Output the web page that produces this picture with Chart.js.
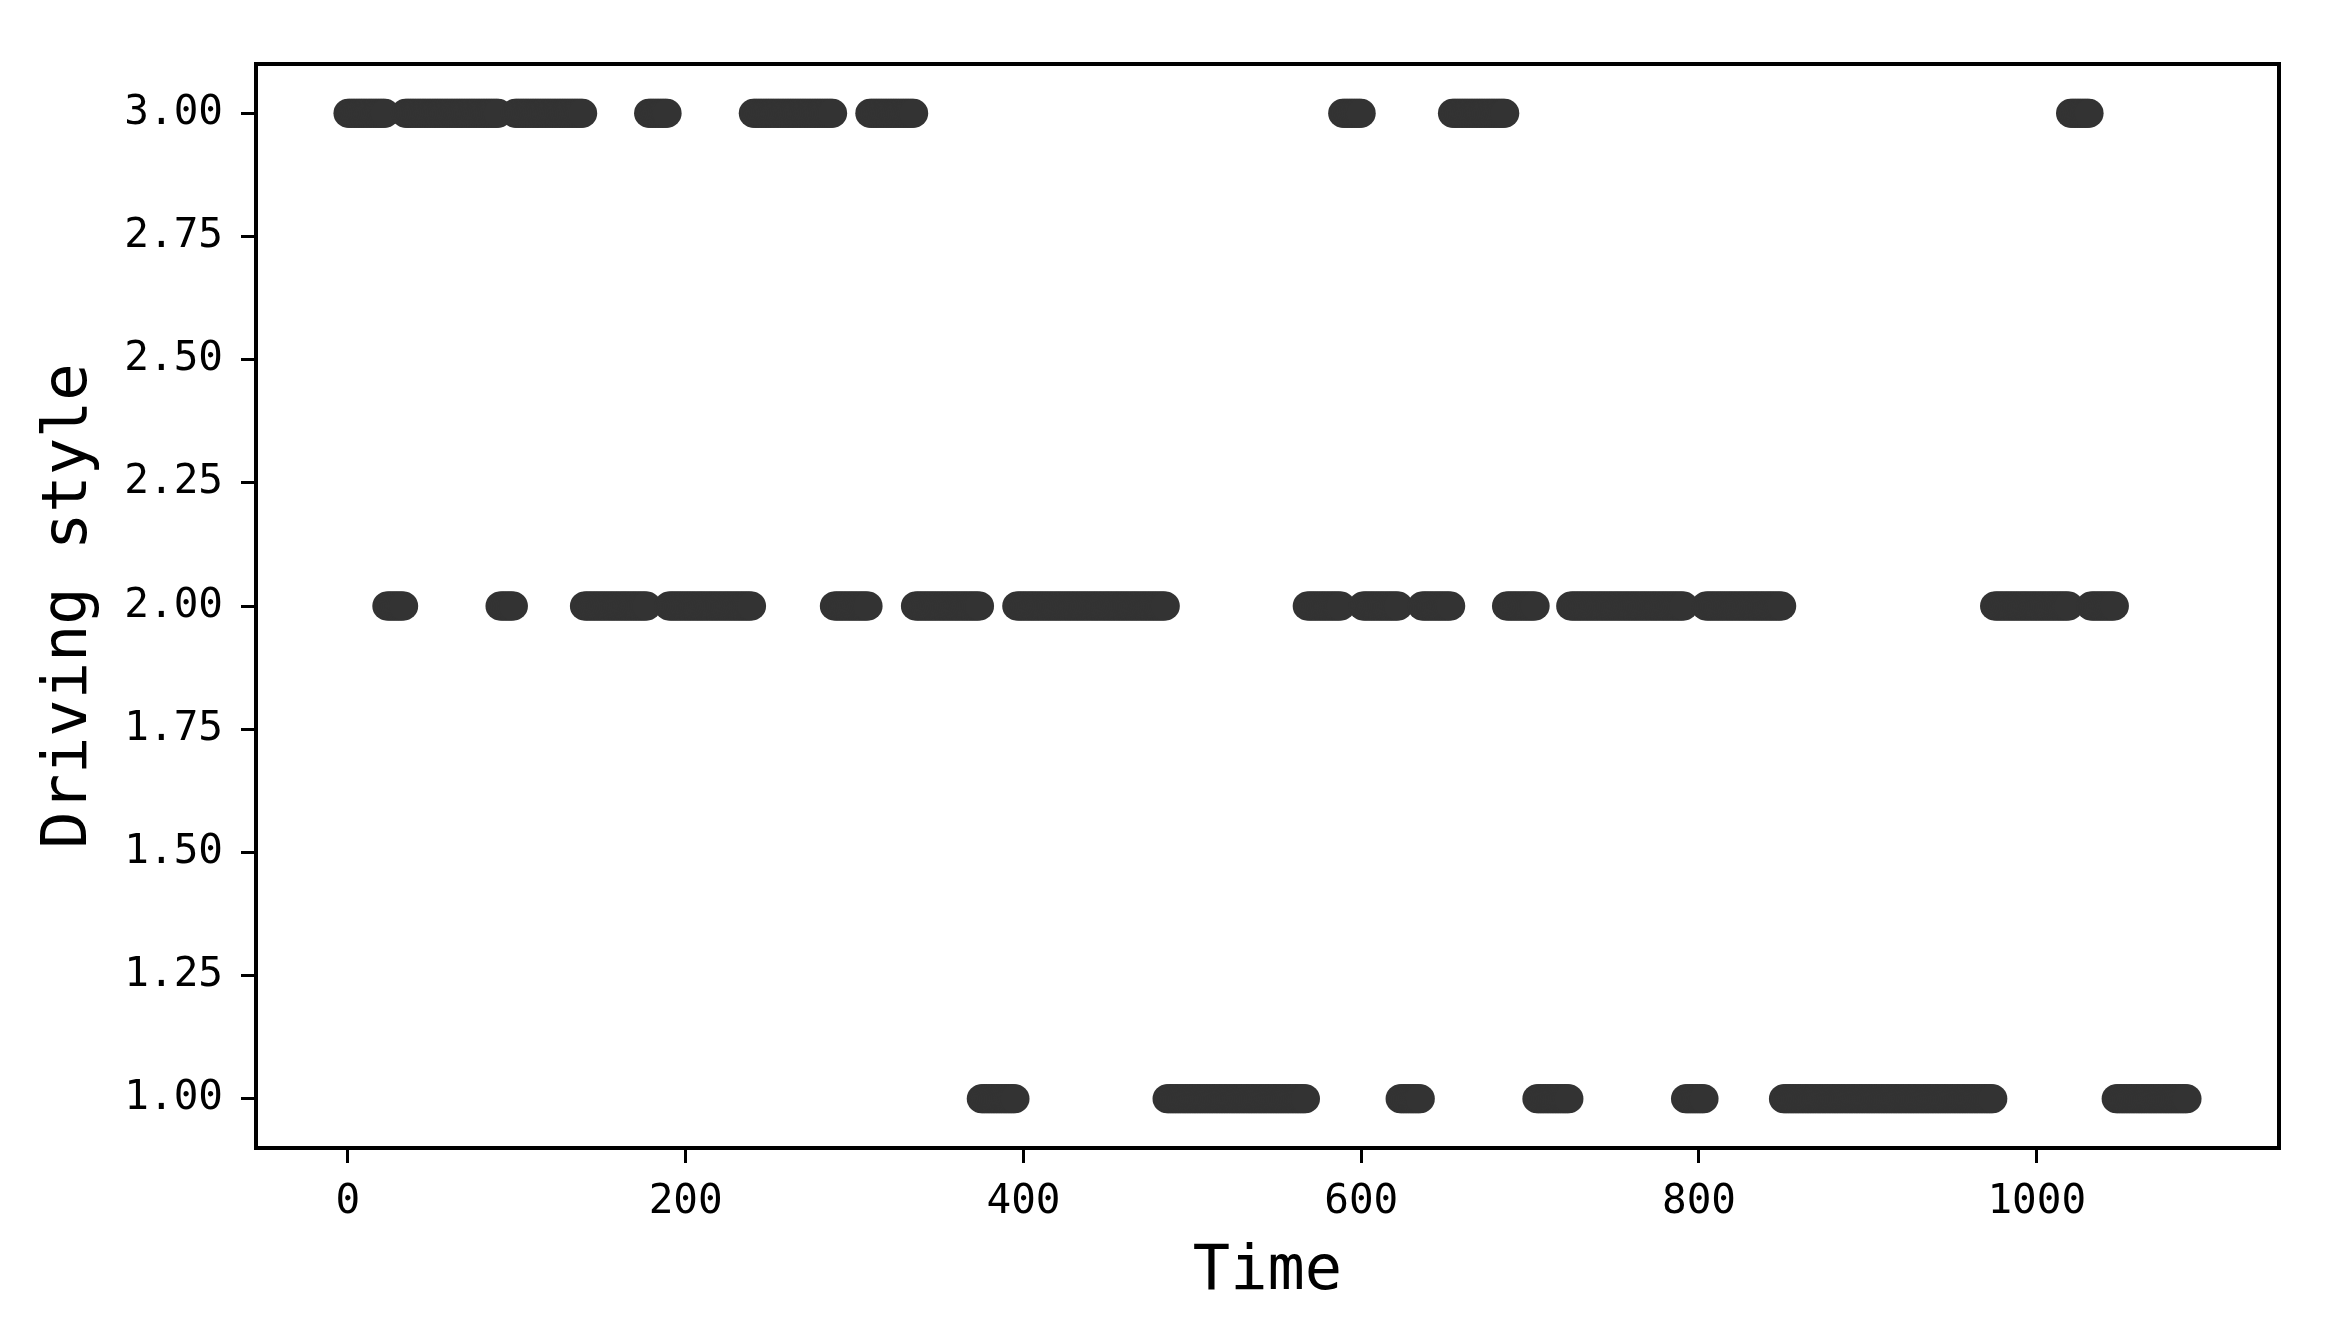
<!DOCTYPE html>
<html>
<head>
<meta charset="utf-8">
<script src="https://cdn.jsdelivr.net/npm/chart.js@4.4.0/dist/chart.umd.min.js"></script>
<style>
  html, body { margin: 0; padding: 0; background: #fff; }
</style>
</head>
<body>
<canvas id="styleChart" width="2331" height="1340"></canvas>
<script>
// Driving style over time, read off the picture as runs:
// run i starts at runStart[i] and keeps runStyle[i] until the next run starts
const runStart = [0, 23, 34, 90, 99, 140, 178, 190, 240, 288, 309, 336, 375, 396, 485, 568,
                  589, 601, 623, 636, 654, 686, 704, 724, 792, 804, 850, 975, 1020, 1032, 1047];
const runStyle = [3, 2, 3, 2, 3, 2, 3, 2, 3, 2, 3, 2, 1, 2, 1, 2,
                  3, 2, 1, 2, 3, 2, 1, 2, 1, 2, 1, 2, 3, 2, 1];
const lastTime = 1089;

const xTicks = [0, 200, 400, 600, 800, 1000];
const yTicks = [1.00, 1.25, 1.50, 1.75, 2.00, 2.25, 2.50, 2.75, 3.00];

// one point per time step
const points = [];
for (let i = 0; i < runStart.length; i++) {
  const end = i + 1 < runStart.length ? runStart[i + 1] - 1 : lastTime;
  for (let t = runStart[i]; t <= end; t++) points.push({ x: t, y: runStyle[i] });
}

const tickFont = { family: 'DejaVu Sans Mono', size: 41 };
const titleFont = { family: 'DejaVu Sans Mono', size: 62 };

// top + right spines (matplotlib box)
const framePlugin = {
  id: 'frame',
  afterDraw(chart) {
    const { ctx, chartArea: a } = chart;
    ctx.save();
    ctx.strokeStyle = '#000';
    ctx.lineWidth = 4;
    ctx.strokeRect(a.left, a.top, a.right - a.left, a.bottom - a.top);
    ctx.restore();
  }
};

new Chart(document.getElementById('styleChart'), {
  type: 'scatter',
  data: {
    datasets: [{
      data: points,
      backgroundColor: '#333333',
      borderWidth: 0,
      pointRadius: 14.5,
      pointHoverRadius: 14.5
    }]
  },
  options: {
    responsive: false,
    animation: false,
    events: [],
    layout: { padding: { top: 64, right: 52, left: 0, bottom: 0 } },
    plugins: { legend: { display: false }, tooltip: { enabled: false } },
    scales: {
      x: {
        type: 'linear',
        min: -54.45,
        max: 1143.45,
        afterBuildTicks: s => { s.ticks = xTicks.map(v => ({ value: v })); },
        afterFit: s => { s.height = 192; },
        grid: { display: true, drawOnChartArea: false, drawTicks: true, tickLength: 15, tickWidth: 3, color: '#000' },
        border: { display: false },
        ticks: { font: tickFont, color: '#000', padding: 15, maxRotation: 0, autoSkip: false, callback: v => String(v) },
        title: { display: true, text: 'Time', font: titleFont, color: '#000', padding: { top: 0, bottom: 30 } }
      },
      y: {
        type: 'linear',
        min: 0.9,
        max: 3.1,
        afterBuildTicks: s => { s.ticks = yTicks.map(v => ({ value: v })); },
        afterFit: s => { s.width = 256; },
        grid: { display: true, drawOnChartArea: false, drawTicks: true, tickLength: 15, tickWidth: 3, color: '#000' },
        border: { display: false },
        ticks: { font: tickFont, color: '#000', padding: 18, autoSkip: false, callback: v => v.toFixed(2) },
        title: { display: true, text: 'Driving style', font: titleFont, color: '#000', padding: { top: 33, bottom: 0 } }
      }
    }
  },
  plugins: [framePlugin]
});
</script>
</body>
</html>
